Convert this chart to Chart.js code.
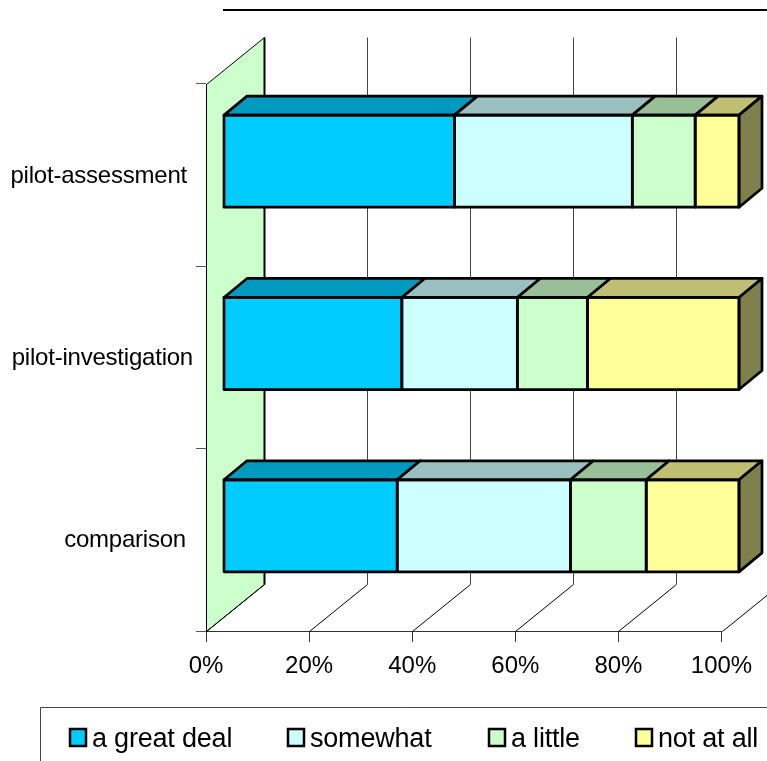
<!DOCTYPE html>
<html>
<head>
<meta charset="utf-8">
<title>Chart</title>
<script src="https://cdn.jsdelivr.net/npm/chart.js@4"></script>
<style>
    html, body { margin: 0; padding: 0; background: #fff; overflow: hidden; }
    canvas { display: block; }
</style>
</head>
<body>
<canvas id="chart" width="767" height="761"></canvas>
<script>
const categories = ["pilot-assessment", "pilot-investigation", "comparison"];
const xTickLabels = ["0%", "20%", "40%", "60%", "80%", "100%"];

const greatDeal = [44.8, 34.6, 33.7];
const somewhat = [34.5, 22.4, 33.6];
const aLittle = [12.2, 13.6, 14.7];
const notAtAll = [8.5, 29.4, 18.0];

const seriesNames = ["a great deal", "somewhat", "a little", "not at all"];
const seriesColors = ["#00CCFF", "#CCFFFF", "#CCFFCC", "#FFFF99"];
const seriesTops = ["#0099BF", "#99BFBF", "#99BF99", "#BFBF73"];
const sideColor = "#80804D";

const fontFamily = "'Liberation Sans', Arial, sans-serif";
const fontSize = 24;
const legendFontSize = 27;

// 3d look: offset of the back wall and of the bars from the front plane
const wallDx = 58, wallDy = -47;
const barDx = 17.5, barDy = -14;
const depthDx = 23, depthDy = -19;

const labelRight = [187, 193, 186];
const legendItems = [
    { box: 70, text: 92 },
    { box: 288, text: 310 },
    { box: 489, text: 511 },
    { box: 636, text: 658 }
];

const fake3d = {
    id: "fake3d",
    beforeDatasetsDraw(chart) {
        const ctx = chart.ctx;
        const area = chart.chartArea;
        const x = chart.scales.x;
        const left = Math.round(area.left) + 0.5;
        const top = Math.round(area.top) + 0.5;
        const bottom = Math.round(area.bottom) + 0.5;

        // side wall
        ctx.save();
        ctx.beginPath();
        ctx.moveTo(left, top);
        ctx.lineTo(left + wallDx, top + wallDy);
        ctx.lineTo(left + wallDx, bottom + wallDy);
        ctx.lineTo(left, bottom);
        ctx.closePath();
        ctx.fillStyle = "#CCFFCC";
        ctx.fill();
        ctx.strokeStyle = "#000";
        ctx.lineWidth = 1;
        ctx.stroke();

        // back wall grid and floor lines
        xTickLabels.forEach((t, i) => {
            const px = Math.round(x.getPixelForValue(i * 20)) + 0.5;
            ctx.strokeStyle = "#000";
            ctx.beginPath();
            ctx.moveTo(px, bottom);
            ctx.lineTo(px + wallDx, bottom + wallDy);
            ctx.stroke();
            ctx.strokeStyle = i === 0 ? "#000" : "#444";
            ctx.lineWidth = i === 0 ? 2 : 1;
            ctx.beginPath();
            ctx.moveTo(px + wallDx, bottom + wallDy);
            ctx.lineTo(px + wallDx, top + wallDy);
            ctx.stroke();
            ctx.lineWidth = 1;
        });

        // top rule
        ctx.fillStyle = "#000";
        ctx.fillRect(223, 9, 544, 2);
        ctx.restore();

        ctx.save();
        ctx.translate(barDx, barDy);
    },
    afterDatasetsDraw(chart) {
        const ctx = chart.ctx;
        ctx.restore();

        ctx.save();
        ctx.translate(barDx, barDy);
        ctx.strokeStyle = "#000";
        ctx.lineWidth = 2.7;
        ctx.lineJoin = "round";
        const last = chart.data.datasets.length - 1;
        chart.data.datasets.forEach((ds, i) => {
            chart.getDatasetMeta(i).data.forEach(bar => {
                const top = bar.y - bar.height / 2;
                const h = bar.height;
                const w = bar.x - bar.base;

                ctx.beginPath();
                ctx.moveTo(bar.base, top);
                ctx.lineTo(bar.base + depthDx, top + depthDy);
                ctx.lineTo(bar.x + depthDx, top + depthDy);
                ctx.lineTo(bar.x, top);
                ctx.closePath();
                ctx.fillStyle = seriesTops[i];
                ctx.fill();
                ctx.stroke();

                if (i === last) {
                    ctx.beginPath();
                    ctx.moveTo(bar.x, top);
                    ctx.lineTo(bar.x + depthDx, top + depthDy);
                    ctx.lineTo(bar.x + depthDx, top + h + depthDy);
                    ctx.lineTo(bar.x, top + h);
                    ctx.closePath();
                    ctx.fillStyle = sideColor;
                    ctx.fill();
                    ctx.stroke();
                }
                ctx.strokeRect(bar.base, top, w, h);
            });
        });
        ctx.restore();

        // category labels
        const y = chart.scales.y;
        ctx.save();
        ctx.font = fontSize + "px " + fontFamily;
        ctx.letterSpacing = "-0.22px";
        ctx.fillStyle = "#000";
        ctx.textAlign = "right";
        ctx.textBaseline = "middle";
        categories.forEach((c, i) => {
            ctx.fillText(c, labelRight[i], y.getPixelForValue(i) + 1);
        });

        // legend
        ctx.strokeStyle = "#444";
        ctx.lineWidth = 1;
        ctx.beginPath();
        ctx.moveTo(40.5, 761);
        ctx.lineTo(40.5, 707.5);
        ctx.lineTo(767, 707.5);
        ctx.stroke();
        ctx.font = legendFontSize + "px " + fontFamily;
        ctx.letterSpacing = "-0.2px";
        ctx.textAlign = "left";
        ctx.textBaseline = "alphabetic";
        legendItems.forEach((item, i) => {
            ctx.fillStyle = seriesColors[i];
            ctx.fillRect(item.box, 729, 16, 17);
            ctx.strokeStyle = "#000";
            ctx.lineWidth = 2.5;
            ctx.strokeRect(item.box, 729, 16, 17);
            ctx.fillStyle = "#000";
            ctx.fillText(seriesNames[i], item.text, 747);
        });
        ctx.restore();
    }
};

new Chart(document.getElementById("chart"), {
    type: "bar",
    data: {
        labels: categories,
        datasets: [greatDeal, somewhat, aLittle, notAtAll].map((values, i) => ({
            label: seriesNames[i],
            data: values,
            backgroundColor: seriesColors[i],
            borderWidth: 0,
            clip: false,
            categoryPercentage: 1,
            barPercentage: 0.505
        }))
    },
    options: {
        indexAxis: "y",
        responsive: false,
        animation: false,
        layout: { padding: { top: 84, right: 45.5, bottom: 0, left: 0 } },
        plugins: {
            legend: { display: false },
            title: { display: false },
            tooltip: { enabled: false }
        },
        scales: {
            x: {
                stacked: true,
                min: 0,
                max: 100,
                afterFit: s => { s.height = 130; },
                afterBuildTicks: s => { s.ticks = xTickLabels.map((t, i) => ({ value: i * 20 })); },
                ticks: {
                    callback: (v, i) => xTickLabels[i],
                    maxRotation: 0,
                    autoSkip: false,
                    padding: 10,
                    color: "#000",
                    font: { family: fontFamily, size: fontSize }
                },
                grid: { drawOnChartArea: false, tickLength: 11, color: "#333", tickWidth: 1 },
                border: { display: true, color: "#333", width: 1 }
            },
            y: {
                stacked: true,
                afterFit: s => { s.width = 206; },
                ticks: { display: false },
                grid: { drawOnChartArea: false, tickLength: 10, color: "#555", tickWidth: 1, offset: true },
                border: { display: true, color: "#000", width: 1 }
            }
        }
    },
    plugins: [fake3d]
});
</script>
</body>
</html>
